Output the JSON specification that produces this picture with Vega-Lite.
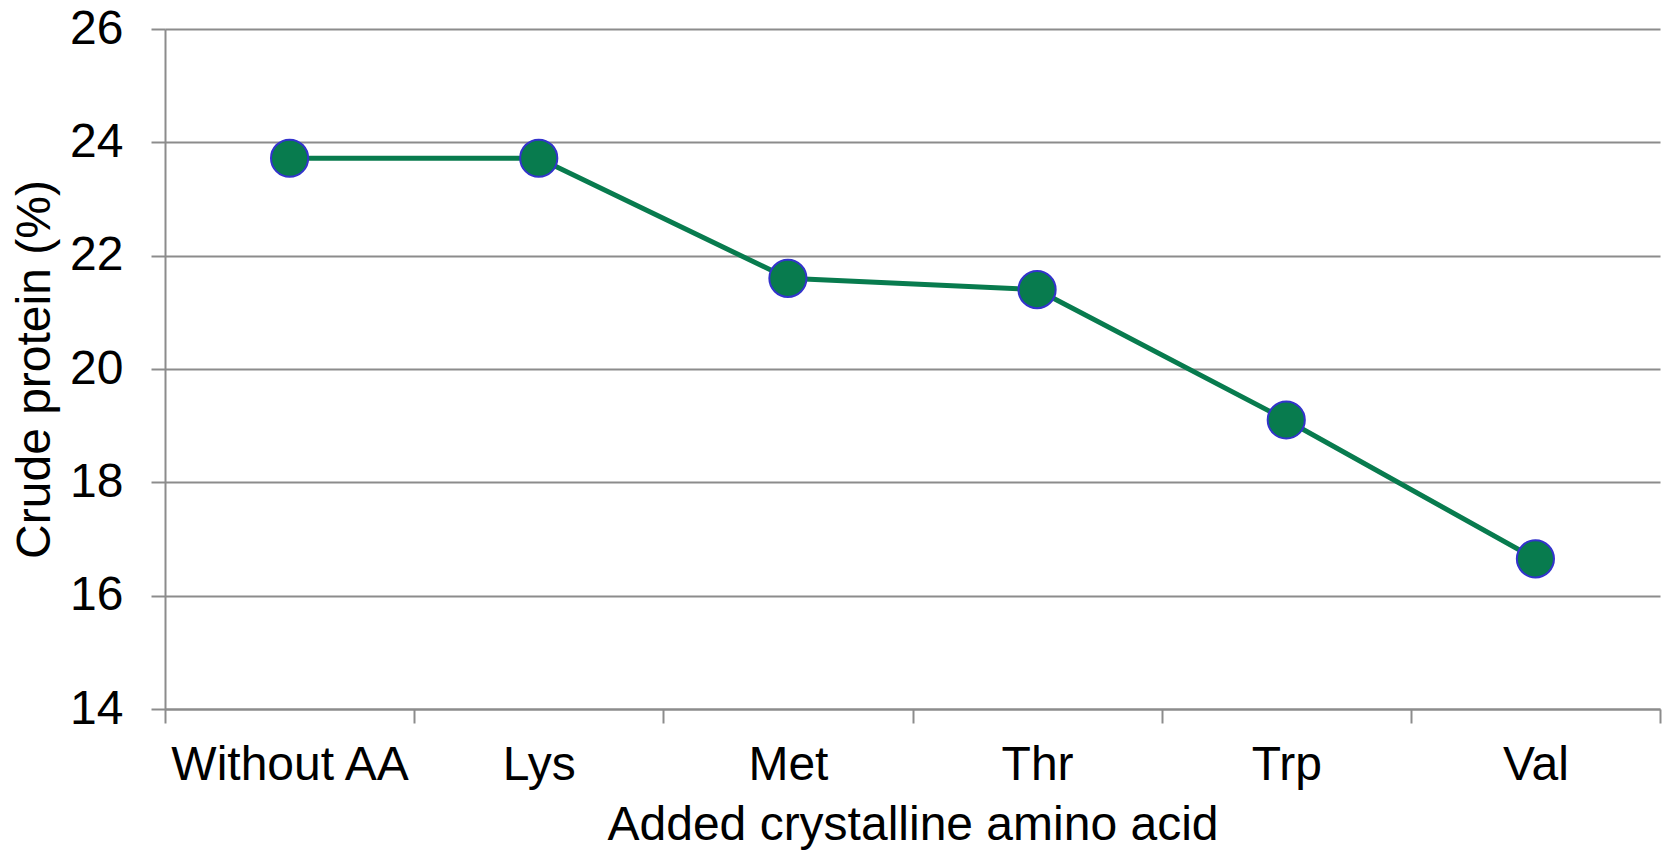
{
  "$schema": "https://vega.github.io/schema/vega-lite/v6.json",
  "autosize": "none",
  "padding": {"left": 165, "top": 29, "right": 5, "bottom": 146},
  "width": 1495,
  "height": 680,
  "background": "white",
  "config": {"view": {"stroke": null}, "font": "Liberation Sans"},
  "data": {"values": [
    {"aa": "Without AA", "cp": 23.72},
    {"aa": "Lys", "cp": 23.72},
    {"aa": "Met", "cp": 21.6},
    {"aa": "Thr", "cp": 21.4},
    {"aa": "Trp", "cp": 19.1},
    {"aa": "Val", "cp": 16.65}
  ]},
  "encoding": {
    "x": {
      "field": "aa", "type": "nominal", "sort": null,
      "scale": {"type": "band", "paddingInner": 0, "paddingOuter": 0},
      "axis": {
        "title": "Added crystalline amino acid",
        "labelAngle": 0, "labelFontSize": 48, "labelColor": "black", "labelPadding": 18, "labelLimit": 0,
        "titleFontSize": 48, "titleFontWeight": "normal", "titleColor": "black", "titlePadding": 12,
        "domainColor": "#8c8c8c", "domainWidth": 2,
        "ticks": true, "tickBand": "extent", "tickSize": 14, "tickColor": "#8c8c8c", "tickWidth": 2,
        "grid": false
      }
    },
    "y": {
      "field": "cp", "type": "quantitative",
      "scale": {"domain": [14, 26], "nice": false, "zero": false},
      "axis": {
        "title": "Crude protein (%)",
        "values": [14, 16, 18, 20, 22, 24, 26],
        "labelFontSize": 48, "labelColor": "black", "labelPadding": 28,
        "titleFontSize": 48, "titleFontWeight": "normal", "titleColor": "black", "titlePadding": 10,
        "domainColor": "#8c8c8c", "domainWidth": 2,
        "tickSize": 14, "tickColor": "#8c8c8c", "tickWidth": 2,
        "grid": true, "gridColor": "#8c8c8c", "gridWidth": 2
      }
    }
  },
  "layer": [
    {"mark": {"type": "line", "color": "#087B4E", "strokeWidth": 5}},
    {"mark": {"type": "point", "shape": "circle", "filled": true, "fill": "#087B4E", "stroke": "#3333CC", "strokeWidth": 2, "size": 1380, "opacity": 1}}
  ]
}
